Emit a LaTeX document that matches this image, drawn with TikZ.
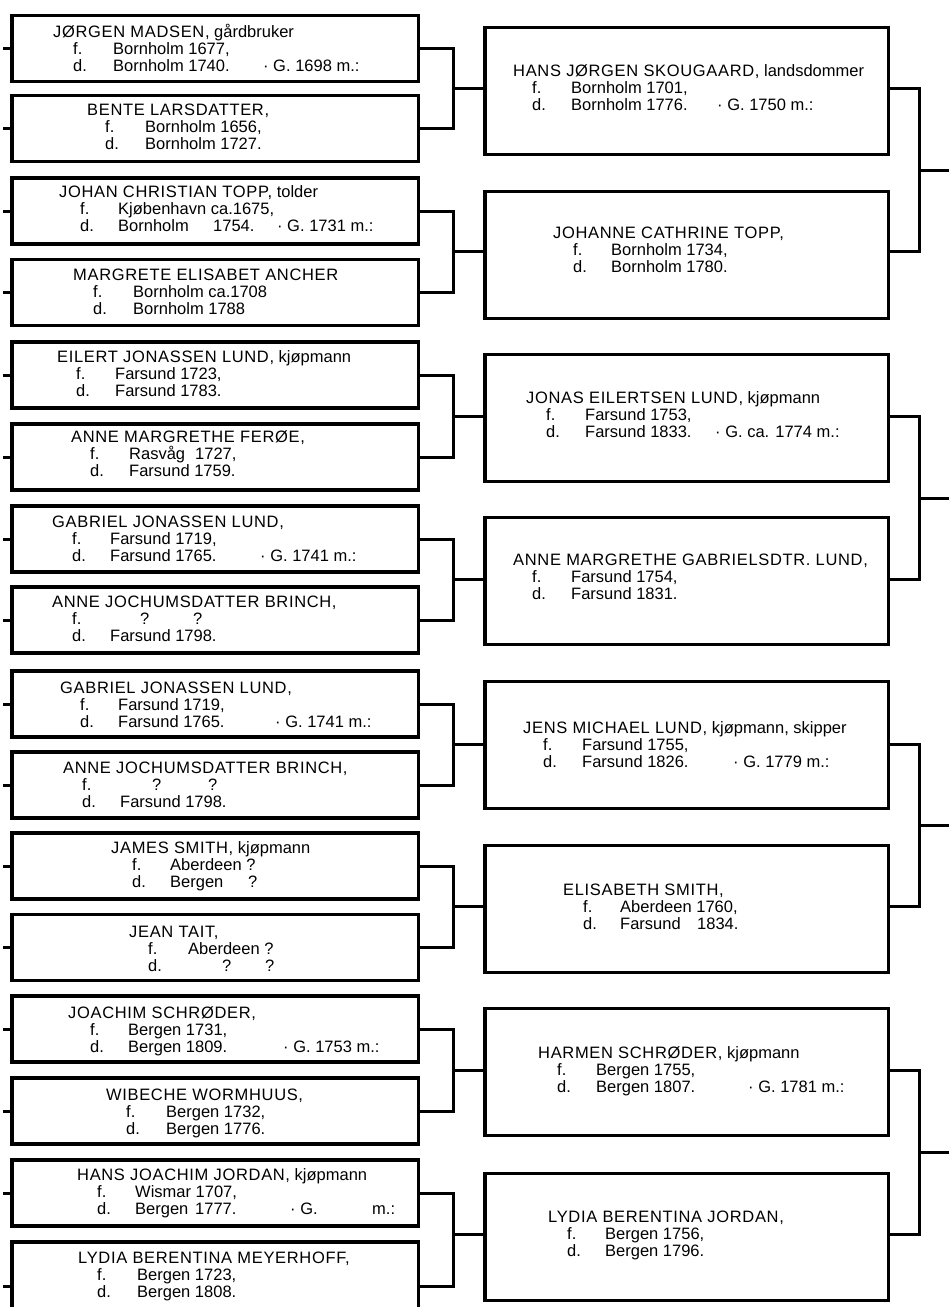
\documentclass[tikz,border=0pt]{standalone}
\usepackage{fontspec}
\setmainfont{Liberation Sans}
\tikzset{
  box/.style={draw, line width=3.5pt, rectangle, inner sep=0pt},
  lbox/.style={box, minimum width=406.5pt, minimum height=66pt},
  mbox/.style={box, minimum width=403.5pt, minimum height=127pt},
  txt/.style={anchor=base west, inner sep=0pt, font=\fontsize{16.5}{17.3}\selectfont},
  link/.style={line width=3pt},
}
\newcommand{\at}[2]{\hbox to 0pt{\hskip#1pt\relax #2\hss}}
\newcommand{\card}[3]{\vtop{\baselineskip=17.3pt\hbox{#1}\hbox{#2}\hbox{#3}}}
\newcommand{\nm}[1]{{\addfontfeature{LetterSpace=4}#1}}
\begin{document}
\begin{tikzpicture}[x=1pt,y=-1pt]
\useasboundingbox (0,0) rectangle (949,1307);
\fill[white] (0,0) rectangle (949,1307);
% left boxes
\node[lbox] (L1) at (215,48.5) {};
\node[lbox] (L2) at (215,128.5) {};
\node[lbox] (L3) at (215,211) {};
\node[lbox] (L4) at (215,292.5) {};
\node[lbox] (L5) at (215,375) {};
\node[lbox] (L6) at (215,457) {};
\node[lbox] (L7) at (215,539) {};
\node[lbox] (L8) at (215,620) {};
\node[lbox] (L9) at (215,704) {};
\node[lbox] (L10) at (215,785) {};
\node[lbox] (L11) at (215,866) {};
\node[lbox] (L12) at (215,947.5) {};
\node[lbox] (L13) at (215,1029) {};
\node[lbox] (L14) at (215,1111) {};
\node[lbox] (L15) at (215,1193) {};
\node[lbox, minimum height=90pt] (L16) at (215,1286.75) {};
% middle boxes
\node[mbox] (M1) at (686.5,91) {};
\node[mbox] (M2) at (686.5,255) {};
\node[mbox] (M3) at (686.5,418) {};
\node[mbox] (M4) at (686.5,581) {};
\node[mbox] (M5) at (686.5,745) {};
\node[mbox] (M6) at (686.5,909) {};
\node[mbox] (M7) at (686.5,1072) {};
\node[mbox] (M8) at (686.5,1237) {};
% junctions
\coordinate (j1) at (453.5,88.5);
\coordinate (j2) at (453.5,251.75);
\coordinate (j3) at (453.5,416);
\coordinate (j4) at (453.5,579.5);
\coordinate (j5) at (453.5,744.5);
\coordinate (j6) at (453.5,906.75);
\coordinate (j7) at (453.5,1070);
\coordinate (j8) at (453.5,1234);
\coordinate (o1) at (919.5,170);
\coordinate (o2) at (919.5,498);
\coordinate (o3) at (919.5,825.6);
\coordinate (o4) at (919.5,1152);
\coordinate (e1) at (955,170);
\coordinate (e2) at (955,498);
\coordinate (e3) at (955,825.6);
\coordinate (e4) at (955,1152);
\coordinate (stubx) at (3,0);
% left stubs
\foreach \i in {1,...,16}{
  \coordinate (s\i) at (L\i.west -| stubx);
  \draw[link] (L\i.west) -- (s\i);
}
% left brackets
\foreach \a/\b/\k in {1/2/1,3/4/2,5/6/3,7/8/4,9/10/5,11/12/6,13/14/7,15/16/8}{
  \draw[link] (L\a.east) -| (j\k) |- (L\b.east);
  \draw[link] (j\k) -- (j\k -| M\k.west);
}
% right brackets
\foreach \a/\b/\k in {1/2/1,3/4/2,5/6/3,7/8/4}{
  \draw[link] (M\a.east |- j\a) -| (o\k) |- (M\b.east |- j\b);
  \draw[link] (o\k) -- (e\k);
}
% texts, left column
\node[txt] (T1) at (53,37) {\card{\nm{JØRGEN MADSEN,} gårdbruker}{\at{20}{f.}\at{60}{Bornholm 1677,}}{\at{20}{d.}\at{60}{Bornholm 1740.}\at{210}{· G. 1698 m.:}}};
\node[txt] (T2) at (87,115) {\card{\nm{BENTE LARSDATTER,}}{\at{18}{f.}\at{58}{Bornholm 1656,}}{\at{18}{d.}\at{58}{Bornholm 1727.}}};
\node[txt] (T3) at (59,197) {\card{\nm{JOHAN CHRISTIAN TOPP,} tolder}{\at{21}{f.}\at{59}{Kjøbenhavn ca.1675,}}{\at{21}{d.}\at{59}{Bornholm}\at{154}{1754.}\at{218}{· G. 1731 m.:}}};
\node[txt] (T4) at (73,280) {\card{\nm{MARGRETE ELISABET ANCHER}}{\at{20}{f.}\at{60}{Bornholm ca.1708}}{\at{20}{d.}\at{60}{Bornholm 1788}}};
\node[txt] (T5) at (57,362) {\card{\nm{EILERT JONASSEN LUND,} kjøpmann}{\at{19}{f.}\at{58}{Farsund 1723,}}{\at{19}{d.}\at{58}{Farsund 1783.}}};
\node[txt] (T6) at (71,442) {\card{\nm{ANNE MARGRETHE FERØE,}}{\at{19}{f.}\at{58}{Rasvåg}\at{124}{1727,}}{\at{19}{d.}\at{58}{Farsund 1759.}}};
\node[txt] (T7) at (52,527) {\card{\nm{GABRIEL JONASSEN LUND,}}{\at{20}{f.}\at{58}{Farsund 1719,}}{\at{20}{d.}\at{58}{Farsund 1765.}\at{208}{· G. 1741 m.:}}};
\node[txt] (T8) at (52,607) {\card{\nm{ANNE JOCHUMSDATTER BRINCH,}}{\at{20}{f.}\at{88}{?}\at{141}{?}}{\at{20}{d.}\at{58}{Farsund 1798.}}};
\node[txt] (T9) at (60,693) {\card{\nm{GABRIEL JONASSEN LUND,}}{\at{20}{f.}\at{58}{Farsund 1719,}}{\at{20}{d.}\at{58}{Farsund 1765.}\at{215}{· G. 1741 m.:}}};
\node[txt] (T10) at (63,773) {\card{\nm{ANNE JOCHUMSDATTER BRINCH,}}{\at{19}{f.}\at{89}{?}\at{145}{?}}{\at{19}{d.}\at{57}{Farsund 1798.}}};
\node[txt] (T11) at (111,853) {\card{\nm{JAMES SMITH,} kjøpmann}{\at{21}{f.}\at{59}{Aberdeen ?}}{\at{21}{d.}\at{59}{Bergen}\at{137}{?}}};
\node[txt] (T12) at (129,937) {\card{\nm{JEAN TAIT,}}{\at{19}{f.}\at{59}{Aberdeen ?}}{\at{19}{d.}\at{93}{?}\at{136}{?}}};
\node[txt] (T13) at (68,1018) {\card{\nm{JOACHIM SCHRØDER,}}{\at{22}{f.}\at{60}{Bergen 1731,}}{\at{22}{d.}\at{60}{Bergen 1809.}\at{215}{· G. 1753 m.:}}};
\node[txt] (T14) at (106,1100) {\card{\nm{WIBECHE WORMHUUS,}}{\at{20}{f.}\at{60}{Bergen 1732,}}{\at{20}{d.}\at{60}{Bergen 1776.}}};
\node[txt] (T15) at (77,1180) {\card{\nm{HANS JOACHIM JORDAN,} kjøpmann}{\at{20}{f.}\at{58}{Wismar 1707,}}{\at{20}{d.}\at{58}{Bergen}\at{118}{1777.}\at{213}{· G.}\at{295}{m.:}}};
\node[txt] (T16) at (78,1263) {\card{\nm{LYDIA BERENTINA MEYERHOFF,}}{\at{19}{f.}\at{59}{Bergen 1723,}}{\at{19}{d.}\at{59}{Bergen 1808.}}};
% texts, middle column
\node[txt] (U1) at (513,76) {\card{\nm{HANS JØRGEN SKOUGAARD,} landsdommer}{\at{19}{f.}\at{58}{Bornholm 1701,}}{\at{19}{d.}\at{58}{Bornholm 1776.}\at{204}{· G. 1750 m.:}}};
\node[txt] (U2) at (553,238) {\card{\nm{JOHANNE CATHRINE TOPP,}}{\at{20}{f.}\at{58}{Bornholm 1734,}}{\at{20}{d.}\at{58}{Bornholm 1780.}}};
\node[txt] (U3) at (526,403) {\card{\nm{JONAS EILERTSEN LUND,} kjøpmann}{\at{20}{f.}\at{59}{Farsund 1753,}}{\at{20}{d.}\at{59}{Farsund 1833.}\at{189}{· G. ca. 1774 m.:}}};
\node[txt] (U4) at (513,565) {\card{\nm{ANNE MARGRETHE GABRIELSDTR. LUND,}}{\at{19}{f.}\at{58}{Farsund 1754,}}{\at{19}{d.}\at{58}{Farsund 1831.}}};
\node[txt] (U5) at (523,733) {\card{\nm{JENS MICHAEL LUND,} kjøpmann, skipper}{\at{20}{f.}\at{59}{Farsund 1755,}}{\at{20}{d.}\at{59}{Farsund 1826.}\at{210}{· G. 1779 m.:}}};
\node[txt] (U6) at (563,895) {\card{\nm{ELISABETH SMITH,}}{\at{20}{f.}\at{57}{Aberdeen 1760,}}{\at{20}{d.}\at{57}{Farsund}\at{134}{1834.}}};
\node[txt] (U7) at (538,1058) {\card{\nm{HARMEN SCHRØDER,} kjøpmann}{\at{19}{f.}\at{58}{Bergen 1755,}}{\at{19}{d.}\at{58}{Bergen 1807.}\at{210}{· G. 1781 m.:}}};
\node[txt] (U8) at (548,1222) {\card{\nm{LYDIA BERENTINA JORDAN,}}{\at{19}{f.}\at{57}{Bergen 1756,}}{\at{19}{d.}\at{57}{Bergen 1796.}}};
\end{tikzpicture}
\end{document}
